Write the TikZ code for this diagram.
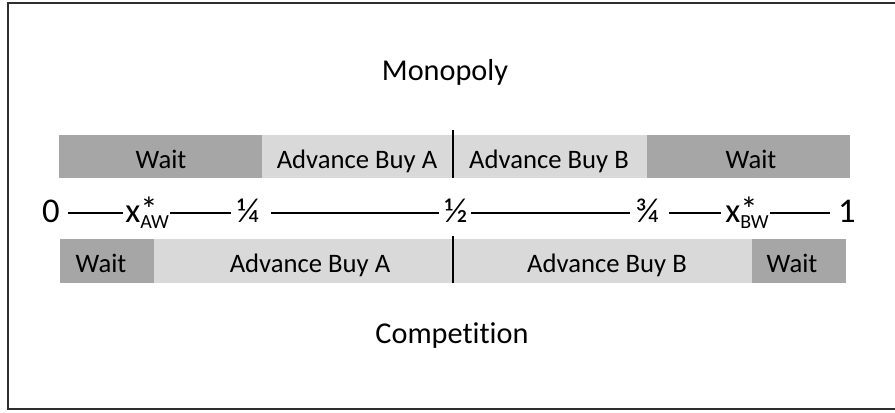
\documentclass[tikz,border=0pt]{standalone}
\usepackage{fontspec}
\setmainfont{Carlito}[Ligatures={NoCommon}]
\usetikzlibrary{calc}
\definecolor{darkbar}{HTML}{A6A6A6}
\definecolor{lightbar}{HTML}{D9D9D9}
\definecolor{framecol}{HTML}{2E2E2E}
\newcommand\xsubstar[1]{x\rlap{\raisebox{0.5pt}{\fontsize{26}{26}\selectfont *}}\raisebox{-4.5pt}{\fontsize{15}{15}\selectfont #1}}
\begin{document}
\begin{tikzpicture}[x=0.75pt,y=-0.75pt,
  framestyle/.style={draw=framecol,line width=1.5pt},
  barlabel/.style={font=\fontsize{20}{24}\selectfont, anchor=base, inner sep=0pt},
  titlelabel/.style={font=\fontsize{22.7}{27}\selectfont, anchor=base, inner sep=0pt},
  numlabel/.style={font=\fontsize{26}{30}\selectfont, anchor=base, inner sep=0pt},
  numline/.style={line width=1.4pt},
  divider/.style={line width=1.1pt}]
\useasboundingbox (0,0) rectangle (895,412);
% frame
\draw[framestyle] (895,3) -- (8,3) -- (8,409) -- (895,409);
% titles
\node[titlelabel] (mono) at (445,80) {Monopoly};
\node[titlelabel] (comp) at (452,343) {Competition};
% upper bar
\fill[darkbar] (59,135) rectangle (262,178);
\fill[lightbar] (262,135) rectangle (647,178);
\fill[darkbar] (647,135) rectangle (850,178);
\draw[divider] (453,130) -- (453,178);
\node[barlabel] (uw1) at (161,168) {Wait};
\node[barlabel] (uaa) at (357,168) {Advance Buy A};
\node[barlabel] (uab) at (549,168) {Advance Buy B};
\node[barlabel] (uw2) at (751,168) {Wait};
% lower bar
\fill[darkbar] (60,239) rectangle (154,283);
\fill[lightbar] (154,239) rectangle (752,283);
\fill[darkbar] (752,239) rectangle (846,283);
\draw[divider] (453,236) -- (453,283);
\node[barlabel] (lw1) at (101,272) {Wait};
\node[barlabel] (laa) at (310,272) {Advance Buy A};
\node[barlabel] (lab) at (607,272) {Advance Buy B};
\node[barlabel] (lw2) at (792,272) {Wait};
% number line
\coordinate (ly) at (0,213);
\node[numlabel] (n0) at (51,222) {0};
\node[numlabel,anchor=base west] (xaw) at (125,222) {\xsubstar{AW}};
\node[numlabel] (q1) at (248,222) {¼};
\node[numlabel] (half) at (456,222) {½};
\node[numlabel] (q3) at (647,222) {¾};
\node[numlabel,anchor=base west] (xbw) at (725,222) {\xsubstar{BW}};
\node[numlabel] (n1) at (847,222) {1};
\draw[numline] ($(n0.east |- ly)+(8,0)$) -- ($(xaw.west |- ly)+(-2,0)$);
\draw[numline] ($(xaw.east |- ly)+(1,0)$) -- ($(q1.west |- ly)+(-6,0)$);
\draw[numline] ($(q1.east |- ly)+(12,0)$) -- ($(half.west |- ly)+(-5,0)$);
\draw[numline] ($(half.east |- ly)+(3,0)$) -- ($(q3.west |- ly)+(-5,0)$);
\draw[numline] ($(q3.east |- ly)+(10,0)$) -- ($(xbw.west |- ly)+(-4,0)$);
\draw[numline] ($(xbw.east |- ly)+(1,0)$) -- ($(n1.west |- ly)+(-8,0)$);
\end{tikzpicture}
\end{document}
